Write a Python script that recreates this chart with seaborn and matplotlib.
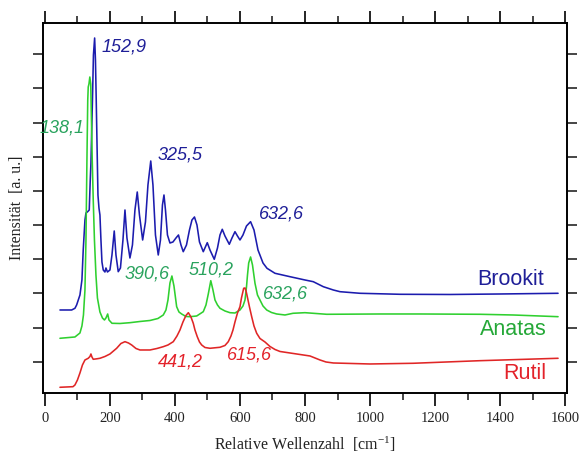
import numpy as np
import pandas as pd
import matplotlib
matplotlib.use("Agg")
import matplotlib.pyplot as plt
from matplotlib.ticker import MultipleLocator, FixedLocator, NullFormatter
import seaborn as sns

# Raman spectra of the three TiO2 modifications (offset vertically, arbitrary units)
brookit_x = [46.2, 82.2, 92.3, 97.5, 107.7, 113.8, 117.8, 123.1, 126.2, 131.4, 136.3, 139.4,
             141.5, 146.2, 149.2, 152.9, 155.4, 157.8, 160.0, 163.1, 166.2, 169.2, 172.3,
             175.4, 179.4, 184.6, 187.7, 192.3, 200.0, 206.2, 213.2, 218.5, 225.5, 232.3,
             240.0, 246.2, 252.3, 261.5, 269.2, 276.9, 284.0, 290.8, 300.6, 309.2, 316.9,
             325.5, 332.3, 340.0, 348.6, 355.4, 361.5, 366.2, 370.8, 376.9, 384.6, 393.8,
             403.1, 410.8, 418.5, 425.5, 435.4, 444.6, 452.3, 460.0, 467.7, 475.4, 487.1,
             499.4, 507.7, 520.9, 530.8, 538.5, 545.5, 553.8, 567.1, 575.4, 584.6, 592.3,
             600.0, 609.2, 620.0, 632.6, 643.1, 655.4, 670.8, 683.1, 707.7, 753.8, 800.0,
             825.5, 856.3, 887.1, 907.7, 969.2, 1092.3, 1246.2, 1400.0, 1578.5]
brookit_y = [83, 83, 84.7, 88, 98, 113, 143, 173, 180, 181.3, 183, 213,
             230, 293, 338, 355, 333, 293, 253, 198, 185, 178, 153,
             131, 123, 121, 125, 121, 123, 138, 162, 138, 121.3, 125,
             153, 183, 155, 135, 148, 183, 201, 178, 153, 171, 208,
             232, 208, 158, 138, 153, 188, 198, 183, 158, 150, 151,
             155, 158, 148, 141.3, 148, 163, 173, 176, 168, 151, 141.3,
             150.3, 143, 133.7, 145, 158, 163.7, 157, 148.7, 155, 161.3, 157,
             153, 158, 167, 171.3, 163, 143, 130, 124.7, 119.7, 116.3, 113,
             111.3, 106.3, 103, 101.3, 99.7, 98.7, 98.5, 99, 99.7]

anatas_x = [46.2, 92.3, 107.7, 113.8, 118.5, 123.1, 126.2, 129.2, 131.7, 133.2, 135.4, 138.1,
            140.9, 143.1, 145.5, 148.6, 152.3, 156.9, 161.5, 169.2, 176.9, 183.1, 187.7,
            193.0, 197.0, 206.2, 230.8, 261.5, 292.3, 323.1, 347.7, 364.0, 372.3, 378.5,
            384.6, 390.6, 396.9, 405.2, 412.3, 420.6, 433.8, 446.2, 466.8, 487.1, 495.4,
            502.5, 510.2, 516.9, 523.1, 530.8, 538.5, 553.8, 569.2, 584.6, 600.0, 609.2,
            615.4, 620.0, 623.1, 626.8, 632.6, 638.5, 646.2, 653.8, 661.5, 670.8, 682.2,
            696.9, 712.9, 738.5, 763.1, 800.0, 866.8, 1030.8, 1153.8, 1338.5, 1440.0, 1578.5]
anatas_y = [54.7, 56, 60, 67, 78, 103, 153, 233, 293, 306, 309, 316,
            309, 273, 233, 193, 153, 118, 95, 81, 75, 73, 75,
            79, 73, 69.7, 69.5, 70.3, 71.5, 72.5, 74.5, 78, 83, 93,
            110, 117, 107, 86.3, 81, 79, 76.5, 76.3, 77, 81.3, 88,
            99, 112.3, 103, 93, 88, 84.7, 82, 80.3, 80, 83, 87,
            93, 106, 118, 130, 136, 128, 109.7, 98, 93, 87, 83,
            80.5, 79, 78, 79.7, 80.3, 78.7, 79, 79, 78.7, 78, 76.3]

rutil_x = [46.2, 86.2, 92.3, 100.0, 107.7, 115.4, 123.1, 133.2, 138.5, 141.5, 144.6, 148.6,
           160.0, 169.2, 184.6, 200.0, 220.6, 233.8, 246.2, 256.9, 266.8, 280.0, 292.3,
           323.1, 344.6, 364.0, 378.5, 394.8, 406.2, 415.4, 424.6, 433.8, 441.2, 449.2,
           456.3, 461.5, 468.6, 475.4, 482.2, 492.3, 507.7, 538.5, 553.8, 564.0, 572.3,
           578.5, 584.6, 592.3, 600.0, 604.6, 611.4, 615.6, 619.4, 622.5, 629.2, 636.0,
           643.1, 651.4, 661.5, 676.9, 692.3, 707.7, 723.1, 753.8, 784.6, 815.4, 830.8,
           846.2, 864.6, 887.1, 1000.0, 1132.3, 1338.5, 1578.5]
rutil_y = [5.7, 6.3, 8, 13, 20, 28, 33, 34.7, 36.5, 39, 36, 33.7,
           34.2, 34.7, 36.5, 39, 44.7, 49.5, 51.3, 50, 48, 44.5, 43,
           43, 44.5, 46.3, 48, 51.3, 57, 63, 71, 77.5, 80.3, 76,
           69.7, 63, 56.3, 51, 48, 45.5, 44.7, 45.7, 47.5, 51.3, 57,
           63, 71, 80, 86.3, 95, 104.7, 105, 101, 96.3, 86, 76.3,
           67, 59.7, 54.5, 51, 46.5, 43.5, 41.5, 40, 38.5, 37, 35,
           33, 31, 30, 29, 29.7, 32.3, 34.7]

# Labelled band positions [cm^-1]
brookit_peaks = [152.9, 325.5, 632.6]
anatas_peaks = [138.1, 390.6, 510.2, 632.6]
rutil_peaks = [441.2, 615.6]

names = ["Brookit", "Anatas", "Rutil"]

line_colors = {"Brookit": "#1c1cae", "Anatas": "#2fd02f", "Rutil": "#e02626"}
text_colors = {"Brookit": "#1f1f98", "Anatas": "#2aa35e", "Rutil": "#e3222a"}

frames = []
for name, xs, ys in [("Brookit", brookit_x, brookit_y),
                     ("Anatas", anatas_x, anatas_y),
                     ("Rutil", rutil_x, rutil_y)]:
    frames.append(pd.DataFrame({"wn": xs, "I": ys, "phase": name}))
df = pd.concat(frames, ignore_index=True)

sns.set_theme(style="white")
plt.rcParams["font.family"] = ["Liberation Serif", "DejaVu Serif"]
plt.rcParams["mathtext.default"] = "regular"

fig = plt.figure(figsize=(5.88, 4.54), dpi=100)
ax = fig.add_axes([0.0731, 0.1344, 0.8912, 0.8156])

for name in names:
    sub = df[df["phase"] == name]
    sns.lineplot(data=sub, x="wn", y="I", color=line_colors[name], lw=1.15,
                 estimator=None, sort=False, ax=ax, legend=False)

ax.set_xlim(-6, 1606)
ax.set_ylim(0, 370.3)

# axes frame and ticks
for s in ax.spines.values():
    s.set_visible(True)
    s.set_color("black")
    s.set_linewidth(1.4)
ax.xaxis.set_major_locator(MultipleLocator(200))
ax.xaxis.set_minor_locator(MultipleLocator(100))
ax.yaxis.set_major_locator(FixedLocator([31.2 + 34.17 * k for k in range(10)]))
ax.yaxis.set_major_formatter(NullFormatter())
ax.tick_params(axis="x", which="major", direction="out", length=9, width=1.2,
               top=True, bottom=True, labelsize=10.5, pad=5, colors="black")
ax.tick_params(axis="x", which="minor", direction="out", length=5, width=1.2,
               top=True, bottom=True)
ax.tick_params(axis="y", which="major", direction="out", length=7, width=1.2,
               left=True, right=True, labelleft=False)
for lbl in ax.get_xticklabels():
    lbl.set_color("#222222")

ax.set_xlabel("Relative Wellenzahl  [cm$^{-1}$]", fontsize=11.5, labelpad=7, color="#222222")
ax.set_ylabel("Intensität  [a. u.]", fontsize=11.5, labelpad=6, color="#222222")

sans_italic = dict(family=["Liberation Sans", "DejaVu Sans"], style="italic", fontsize=13)


def peak_label(name, xs, ys, peak, dx, dy, ha):
    h = float(np.interp(peak, xs, ys))
    txt = f"{peak:.1f}".replace(".", ",")
    ax.text(peak + dx, h + dy, txt, color=text_colors[name], ha=ha, va="center",
            **sans_italic)


# Brookit bands
peak_label("Brookit", brookit_x, brookit_y, brookit_peaks[0], 22, -9, "left")
peak_label("Brookit", brookit_x, brookit_y, brookit_peaks[1], 21, 6, "left")
peak_label("Brookit", brookit_x, brookit_y, brookit_peaks[2], 27, 8, "left")
# Anatas bands
peak_label("Anatas", anatas_x, anatas_y, anatas_peaks[0], -15, -51, "right")
peak_label("Anatas", anatas_x, anatas_y, anatas_peaks[1], -8, 2, "right")
peak_label("Anatas", anatas_x, anatas_y, anatas_peaks[2], 2, 11, "center")
peak_label("Anatas", anatas_x, anatas_y, anatas_peaks[3], 39, -37, "left")
# Rutil bands
peak_label("Rutil", rutil_x, rutil_y, rutil_peaks[0], -26, -49, "center")
peak_label("Rutil", rutil_x, rutil_y, rutil_peaks[1], 13, -67, "center")

# phase names at the right end of each trace
name_font = dict(family=["Liberation Sans", "DejaVu Sans"], fontsize=15.5)
ax.text(1535, 113.5, "Brookit", color=text_colors["Brookit"], ha="right", va="center", **name_font)
ax.text(1543, 63, "Anatas", color="#25a838", ha="right", va="center", **name_font)
ax.text(1543, 19, "Rutil", color=text_colors["Rutil"], ha="right", va="center", **name_font)

fig.savefig("out.png", dpi=100, facecolor="white")
